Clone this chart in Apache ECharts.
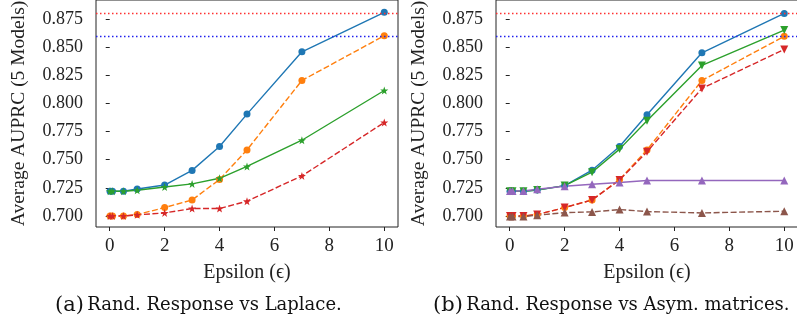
<!DOCTYPE html>
<html>
<head>
<meta charset="utf-8">
<script src="https://cdn.jsdelivr.net/npm/echarts@6/dist/echarts.min.js"></script>
<style>
  html, body { margin: 0; padding: 0; background: #fff; }
  #chart { width: 797px; height: 334px; }
</style>
</head>
<body>
<div id="chart"></div>
<script>
// epsilon values (x)
const eps = [0.01, 0.1, 0.5, 1, 2, 3, 4, 5, 7, 10];

// (a) Rand. Response vs Laplace
const lapBlue   = [0.722, 0.722, 0.722, 0.724, 0.7275, 0.7405, 0.7617, 0.7905, 0.8459, 0.881];
const lapOrange = [0.700, 0.700, 0.700, 0.7012, 0.7075, 0.7142, 0.7324, 0.7587, 0.8204, 0.8602];
const lapGreen  = [0.722, 0.722, 0.722, 0.7229, 0.7258, 0.7285, 0.7335, 0.744, 0.7673, 0.8115];
const lapRed    = [0.700, 0.700, 0.700, 0.701, 0.7027, 0.7066, 0.7066, 0.7131, 0.7356, 0.7831];

// (b) Rand. Response vs Asym. matrices
const asymBlue   = [0.722, 0.722, 0.722, 0.723, 0.727, 0.7407, 0.7617, 0.790, 0.845, 0.880];
const asymOrange = [0.700, 0.700, 0.700, 0.7012, 0.7075, 0.7142, 0.7324, 0.7587, 0.8204, 0.8596];
const asymGreen  = [0.722, 0.722, 0.722, 0.723, 0.727, 0.7389, 0.7594, 0.7846, 0.8338, 0.8652];
const asymRed    = [0.700, 0.700, 0.700, 0.7012, 0.7075, 0.7142, 0.732, 0.757, 0.8133, 0.848];
const asymPurple = [0.7222, 0.7222, 0.7222, 0.7238, 0.7264, 0.7282, 0.7297, 0.7315, 0.7315, 0.7315];
const asymBrown  = [0.6995, 0.6995, 0.6995, 0.7006, 0.703, 0.7036, 0.7057, 0.7039, 0.7027, 0.7042];

// dotted reference lines
const refRed = 0.8825;
const refBlue = 0.8628;

// ticks
const xTicks = [0, 2, 4, 6, 8, 10];
const yTicks = [0.700, 0.725, 0.750, 0.775, 0.800, 0.825, 0.850, 0.875];

const font = "'Liberation Serif', 'DejaVu Serif', serif";
const capFont = "'DejaVu Serif', serif";
const ink = '#222';
const C = { blue: '#1f77b4', orange: '#ff7f0e', green: '#2ca02c', red: '#d62728', purple: '#9467bd', brown: '#8c564b' };
const star = 'path://M0,-10 L2.35,-3.24 9.51,-3.09 3.8,1.24 5.88,8.09 0,4 -5.88,8.09 -3.8,1.24 -9.51,-3.09 -2.35,-3.24Z';

const pts = (ys) => eps.map((x, i) => [x, ys[i]]);

function xAxis(idx) {
  return {
    gridIndex: idx, type: 'value', min: -0.5, max: 10.5,
    name: 'Epsilon (\u03f5)', nameLocation: 'middle', nameGap: 36,
    nameTextStyle: { fontFamily: font, fontSize: 20, color: ink },
    axisLine: { show: false },
    axisTick: { show: true, length: 4, customValues: xTicks, lineStyle: { color: ink } },
    axisLabel: { customValues: xTicks, margin: 10, fontFamily: font, fontSize: 19, color: ink },
    splitLine: { show: false }
  };
}
function yAxis(idx) {
  return {
    gridIndex: idx, type: 'value', min: 0.6902, max: 0.8919,
    name: 'Average AUPRC (5 Models)', nameLocation: 'middle', nameGap: 67,
    nameTextStyle: { fontFamily: font, fontSize: 19.5, color: ink },
    axisLine: { show: false },
    axisTick: { show: true, length: 4, customValues: yTicks, lineStyle: { color: ink } },
    axisLabel: { customValues: yTicks, margin: 13, fontFamily: font, fontSize: 18, color: ink,
      formatter: (v) => v.toFixed(3) },
    splitLine: { show: false }
  };
}
function line(idx, ys, color, dashed, symbol, size, rotate) {
  return {
    type: 'line', xAxisIndex: idx, yAxisIndex: idx, data: pts(ys),
    symbol: symbol, symbolSize: size, symbolRotate: rotate || 0, showSymbol: true,
    itemStyle: { color: color },
    lineStyle: { color: color, width: 1.4, type: dashed ? [6, 2.5] : 'solid' },
    animation: false, silent: true
  };
}
function refLine(idx, value, color) {
  return {
    type: 'line', xAxisIndex: idx, yAxisIndex: idx, data: [], silent: true, animation: false,
    markLine: {
      symbol: 'none', silent: true, label: { show: false },
      lineStyle: { color: color, type: [1.5, 2.5], width: 1.3, opacity: 1 },
      emphasis: { disabled: true },
      data: [{ yAxis: value }]
    }
  };
}
function caption(left, tag, text) {
  return { type: 'text', left: left, top: 295, style: { rich: {
      p: { fontFamily: capFont, fontSize: 21, fill: '#111' },
      t: { fontFamily: capFont, fontSize: 18, fill: '#111' } },
    text: '{p|' + tag + '} {t|' + text + '}' } };
}

const chart = echarts.init(document.getElementById('chart'), null, { renderer: 'canvas' });
chart.setOption({
  animation: false,
  backgroundColor: '#fff',
  grid: [
    { left: 96, top: 0, width: 302, height: 227, show: true, borderColor: ink, borderWidth: 1,
      containLabel: false, outerBoundsMode: 'none' },
    { left: 496, top: 0, width: 302, height: 227, show: true, borderColor: ink, borderWidth: 1,
      containLabel: false, outerBoundsMode: 'none' }
  ],
  xAxis: [xAxis(0), xAxis(1)],
  yAxis: [yAxis(0), yAxis(1)],
  graphic: [
    caption(55, '(a)', 'Rand. Response vs Laplace.'),
    caption(433, '(b)', 'Rand. Response vs Asym. matrices.')
  ],
  series: [
    refLine(0, refRed, '#ff3030'),
    refLine(0, refBlue, '#2020ee'),
    line(0, lapBlue, C.blue, false, 'circle', 7),
    line(0, lapOrange, C.orange, true, 'circle', 7),
    line(0, lapGreen, C.green, false, star, 8),
    line(0, lapRed, C.red, true, star, 8),
    refLine(1, refRed, '#ff3030'),
    refLine(1, refBlue, '#2020ee'),
    line(1, asymBlue, C.blue, false, 'circle', 7),
    line(1, asymOrange, C.orange, true, 'circle', 7),
    line(1, asymGreen, C.green, false, 'triangle', 8, 180),
    line(1, asymRed, C.red, true, 'triangle', 8, 180),
    line(1, asymPurple, C.purple, false, 'triangle', 8),
    line(1, asymBrown, C.brown, true, 'triangle', 8)
  ]
});
</script>
</body>
</html>
